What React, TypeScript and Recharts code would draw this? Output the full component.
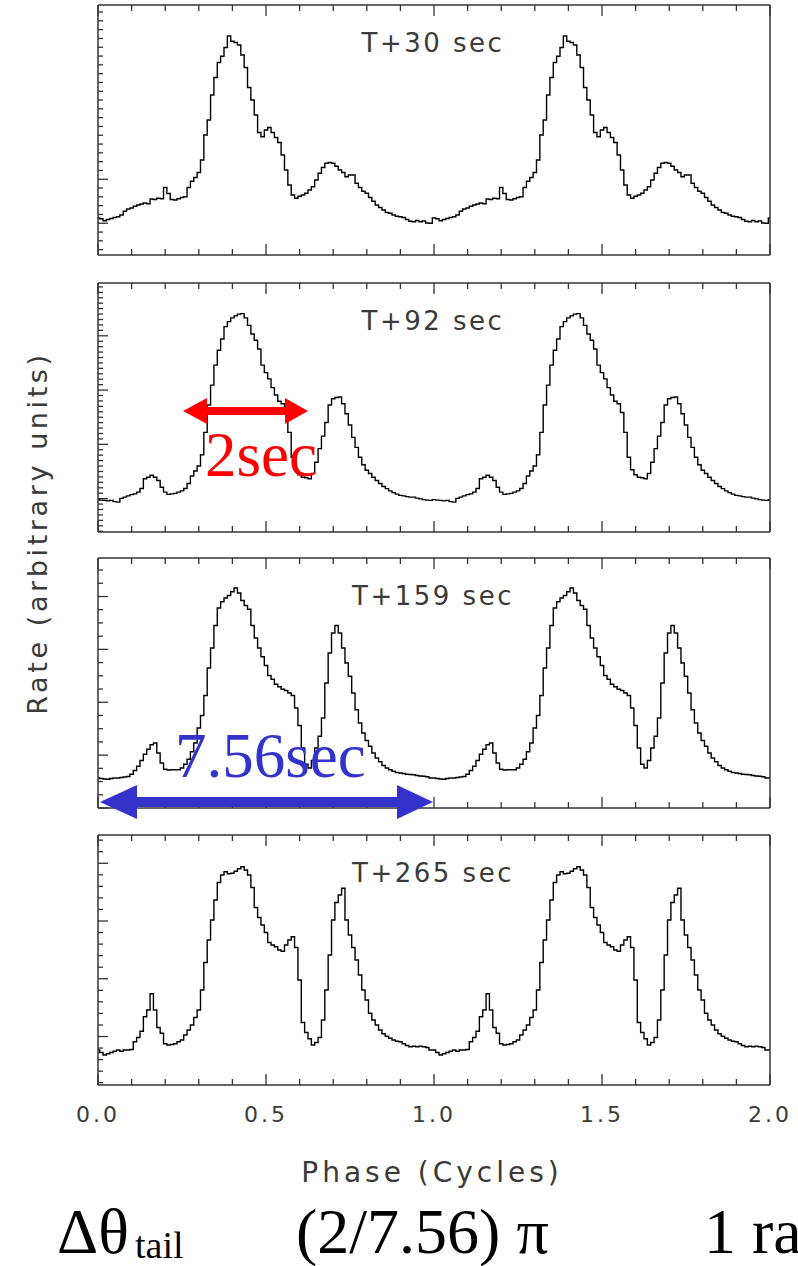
import { LineChart, Line, XAxis, YAxis } from 'recharts';

// phase ticks along the x axis (shared by all panels)
const X_TICKS = [0, 0.1, 0.2, 0.3, 0.4, 0.5, 0.6, 0.7, 0.8, 0.9, 1, 1.1, 1.2, 1.3, 1.4, 1.5, 1.6, 1.7, 1.8, 1.9, 2];
const X_MAJOR = [0, 0.5, 1, 1.5, 2];

const titles = ['T+30 sec', 'T+92 sec', 'T+159 sec', 'T+265 sec'];

// one pulse cycle per panel, bins of 0.01 in phase (plotted twice, 0-2 cycles)
const rate30 = [
  14.8, 14.5, 13.7, 14.2, 14.6, 15, 15.3, 16, 17.5, 18.4,
  18.8, 19.5, 20, 20.4, 20.8, 20.5, 22.4, 22.2, 22.7, 22.5,
  27, 24.6, 22.2, 22, 22.5, 23, 23.3, 27, 29.5, 31,
  33, 38, 48, 54, 64, 71, 77, 79.5, 83, 87.6,
  85.5, 85, 84, 80, 75, 67, 62, 56, 49, 47.3,
  50, 51, 49, 47, 45, 40, 34, 28, 24, 22.7,
  23.5, 24, 24.7, 26, 27.3, 30, 32.7, 35, 36.7, 37,
  36.7, 35.5, 34, 33, 31.3, 32, 32, 28.7, 27, 25.5,
  24.7, 23, 21.5, 20, 19, 18, 17, 16.7, 16, 15.5,
  15.3, 15, 14.2, 13.5, 13.3, 13.8, 13.3, 13.6, 12.8, 12.7,
];

const rate92 = [
  13, 12.8, 12.7, 12.5, 12.7, 12.2, 12, 13.5, 14, 14.5,
  15, 15.3, 16, 17.5, 21.4, 22, 22.8, 22, 20.7, 18,
  16, 15.1, 15.3, 15.5, 16, 16.5, 17.5, 19.5, 22.5, 24.5,
  26.5, 31, 40, 51, 59, 67, 73, 77.5, 82.5, 84.5,
  86, 86.8, 87.5, 87.7, 86, 83, 79.5, 77, 73.5, 67,
  64, 61.5, 58, 55, 52.5, 51.5, 48, 40, 30, 25,
  23, 22, 21.8, 21.4, 23.5, 28, 33.5, 38.5, 44, 51,
  53.5, 54, 54.2, 51.5, 47.5, 43, 38, 34, 30, 27,
  24.8, 23.5, 22, 20.7, 19.5, 18.3, 17.4, 16.5, 15.8, 15.2,
  14.7, 14.5, 14.2, 14, 14, 13.6, 13.3, 13, 12.8, 12.7,
];

const rate159 = [
  12, 11.8, 11.6, 11.5, 11.8, 12, 12, 12.2, 12.4, 12.6,
  13.5, 15, 16.7, 19, 21.5, 23.5, 25.3, 26, 22, 18,
  15.5, 15.2, 15.3, 15.3, 15.3, 16, 17.5, 19.5, 22.5, 26,
  32, 37, 45, 56, 64, 73, 80, 82.5, 84, 85,
  86.5, 88, 86, 83, 81, 79.5, 73, 68, 64, 60.5,
  57, 53, 51.5, 49.5, 48.5, 47.5, 47, 46, 45, 40,
  33, 24, 17.5, 16, 19, 24, 28.7, 36, 50, 62,
  70, 73, 70, 64, 58, 52.7, 46, 39.3, 34, 30,
  27, 24.7, 22, 20, 18.5, 17, 16, 15.3, 14.7, 14.2,
  14, 13.8, 13.5, 13.4, 13.3, 13, 12.8, 12.7, 12.5, 12,
];

const rate265 = [
  14, 13, 12, 12.5, 13, 13.5, 14, 13.5, 14, 14,
  14.2, 17.3, 19, 21.5, 27.3, 30, 36.5, 30, 23, 20.7,
  16.5, 16, 16.2, 16.5, 17.3, 18, 20, 22, 24, 27,
  30, 38, 49, 58, 66, 74, 81, 84, 85.3, 84.5,
  84.7, 85.5, 86.5, 87.3, 86, 84, 79, 71, 67, 64,
  61, 57, 56, 55.3, 54, 53.5, 56, 58, 59.3, 55,
  42, 25, 21, 18.5, 16, 17, 19, 26, 38, 52,
  66, 73, 76, 78.7, 66, 60, 55, 50, 44, 38,
  34, 28.7, 26, 24, 22, 20.5, 19.5, 18.7, 18, 17.5,
  17.3, 16.5, 15.8, 15.3, 15.5, 15.3, 15.5, 15.3, 15, 14,
];

// major y ticks (arbitrary units, 0-100 per panel) and minor subdivisions
const yMajor30 = [12.7, 30.3, 47.7, 65.3, 82.9];
const yMajor92 = [13.4, 35.2, 57.0, 78.8];
const yMajor159 = [0, 21.15, 42.3, 63.45, 84.6];
const yMajor265 = [19.4, 42.5, 65.6, 88.7];

const AXIS = '#333';
const TEXT = '#3a3a3a';
const SANS = "'DejaVu Sans', sans-serif";
const SERIF = "'Liberation Serif', 'Times New Roman', serif";

const rows = Array.from({ length: 201 }, (_, k) => ({
  phase: k / 100,
  r30: rate30[k % 100],
  r92: rate92[k % 100],
  r159: rate159[k % 100],
  r265: rate265[k % 100],
}));

function withMinor(majors: number[], sub: number): number[] {
  const step = (majors[1] - majors[0]) / sub;
  const start = majors[0] - Math.floor(majors[0] / step + 1e-6) * step;
  const out: number[] = [];
  for (let v = start; v <= 100.01; v += step) out.push(Number(v.toFixed(3)));
  return out;
}

const isMajor = (v: number, majors: number[]) => majors.some((m) => Math.abs(m - v) < 0.05);

const panels = [
  { key: 'r30', top: 5, height: 250, majors: yMajor30, sub: 5 },
  { key: 'r92', top: 283, height: 249, majors: yMajor92, sub: 10 },
  { key: 'r159', top: 558, height: 250, majors: yMajor159, sub: 4 },
  { key: 'r265', top: 835, height: 250, majors: yMajor265, sub: 5 },
];

const PAD = 20;
const PAD_BOTTOM = 50;

function xTick(side: 'top' | 'bottom', labels: boolean) {
  return (props: any) => {
    const { x, y, payload } = props;
    const major = isMajor(payload.value, X_MAJOR);
    const len = major ? 11 : 6;
    const dir = side === 'bottom' ? -1 : 1;
    return (
      <g>
        <line x1={x} x2={x} y1={y} y2={y + dir * len} stroke={AXIS} strokeWidth={1.3} />
        {labels && major && (
          <text x={x} y={y + 37} textAnchor="middle" fontFamily={SANS} fontSize={22} letterSpacing={3} fill={TEXT}>
            {payload.value.toFixed(1)}
          </text>
        )}
      </g>
    );
  };
}

function yTick(side: 'left' | 'right', majors: number[]) {
  return (props: any) => {
    const { x, y, payload } = props;
    const len = isMajor(payload.value, majors) ? 10 : 5;
    const dir = side === 'left' ? 1 : -1;
    return <line x1={x} x2={x + dir * len} y1={y} y2={y} stroke={AXIS} strokeWidth={1.3} />;
  };
}

function Panel({ idx }: { idx: number }) {
  const p = panels[idx];
  const last = idx === panels.length - 1;
  const yTicks = withMinor(p.majors, p.sub);
  const axisLine = { stroke: AXIS, strokeWidth: 1.5 };
  // axes are 1px wide (zero-size axes are not drawn), margins compensate
  return (
    <div style={{ position: 'absolute', left: 0, top: p.top - PAD }}>
      <LineChart
        width={798}
        height={p.height + PAD + PAD_BOTTOM}
        data={rows}
        margin={{ top: PAD - 1, right: 27, bottom: PAD_BOTTOM - 1, left: 97 }}
      >
        <XAxis xAxisId="b" dataKey="phase" type="number" domain={[0, 2]} ticks={X_TICKS} interval={0}
          height={1} tickSize={0} tickMargin={0} tickLine={false} axisLine={axisLine} tick={xTick('bottom', last)} />
        <XAxis xAxisId="t" orientation="top" dataKey="phase" type="number" domain={[0, 2]} ticks={X_TICKS} interval={0}
          height={1} tickSize={0} tickMargin={0} tickLine={false} axisLine={axisLine} tick={xTick('top', false)} />
        <YAxis yAxisId="l" type="number" domain={[0, 100]} ticks={yTicks} interval={0}
          width={1} tickSize={0} tickMargin={0} tickLine={false} axisLine={axisLine} tick={yTick('left', p.majors)} />
        <YAxis yAxisId="r" orientation="right" type="number" domain={[0, 100]} ticks={yTicks} interval={0}
          width={1} tickSize={0} tickMargin={0} tickLine={false} axisLine={axisLine} tick={yTick('right', p.majors)} />
        <Line xAxisId="b" yAxisId="l" dataKey={p.key} type="step" stroke="#000" strokeWidth={1.4}
          dot={false} isAnimationActive={false} />
      </LineChart>
    </div>
  );
}

export default function App() {
  return (
    <div style={{ position: 'absolute', left: 0, top: 0, width: 798, height: 1266, background: '#fff', overflow: 'hidden' }}>
      {panels.map((_, i) => (
        <Panel key={i} idx={i} />
      ))}
      <svg width={798} height={1266} style={{ position: 'absolute', left: 0, top: 0, pointerEvents: 'none' }}>
        {panels.map((p, i) => (
          <text key={i} x={433} y={p.top + 46.5} textAnchor="middle" fontFamily={SANS} fontSize={26}
            letterSpacing={2.5} fill={TEXT}>
            {titles[i]}
          </text>
        ))}
        <text x={37} y={533} transform="rotate(-90 37 533)" textAnchor="middle" dominantBaseline="central"
          fontFamily={SANS} fontSize={27} letterSpacing={3.6} fill={TEXT}>
          Rate (arbitrary units)
        </text>
        <text x={432} y={1182} textAnchor="middle" fontFamily={SANS} fontSize={28} letterSpacing={4} fill={TEXT}>
          Phase (Cycles)
        </text>

        <polygon
          points="183,411 207,398 207,407 285,407 285,398 308,411 285,424 285,415 207,415 207,424"
          fill="#ff0000"
        />
        <text x={205} y={476} fontFamily={SERIF} fontSize={63} fill="#ff0000">2sec</text>

        <polygon
          points="100,802 137,785 137,797 397,797 397,785 433,802 397,819 397,807 137,807 137,819"
          fill="#3333cc"
        />
        <text x={175} y={777} fontFamily={SERIF} fontSize={63} fill="#3333cc">7.56sec</text>

        <text x={57} y={1253} fontFamily={SERIF} fontSize={64} fill="#000">Δθ</text>
        <text x={135} y={1258} fontFamily={SERIF} fontSize={38} fill="#000">tail</text>
        <text x={296} y={1253} fontFamily={SERIF} fontSize={64} fill="#000">(2/7.56) π</text>
        <text x={704} y={1253} fontFamily={SERIF} fontSize={64} fill="#000">1 ra</text>
      </svg>
    </div>
  );
}
